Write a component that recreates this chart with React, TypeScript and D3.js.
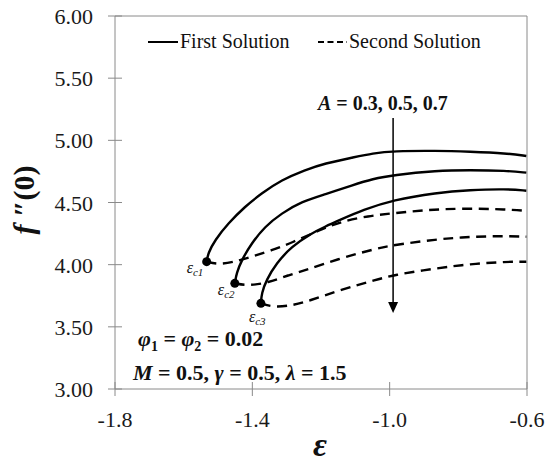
import React from "react";
import * as d3 from "d3";

// ---- data (epsilon, f''(0)) ----
const firstA03: [number, number][] = [
  [-1.533, 4.024], [-1.529, 4.091], [-1.509, 4.198], [-1.47, 4.333], [-1.422, 4.466],
  [-1.373, 4.574], [-1.315, 4.681], [-1.247, 4.761], [-1.189, 4.815], [-1.107, 4.862],
  [-1.049, 4.896], [-0.99, 4.914], [-0.864, 4.917], [-0.767, 4.909], [-0.66, 4.896], [-0.602, 4.874],
];
const firstA05: [number, number][] = [
  [-1.451, 3.85], [-1.446, 3.931], [-1.431, 4.038], [-1.402, 4.172], [-1.364, 4.305],
  [-1.315, 4.413], [-1.257, 4.506], [-1.189, 4.565], [-1.107, 4.641], [-1.049, 4.69],
  [-0.99, 4.721], [-0.864, 4.756], [-0.767, 4.761], [-0.66, 4.756], [-0.602, 4.74],
];
const firstA07: [number, number][] = [
  [-1.375, 3.689], [-1.373, 3.77], [-1.359, 3.877], [-1.33, 4.011], [-1.286, 4.145],
  [-1.228, 4.252], [-1.189, 4.305], [-1.145, 4.359], [-1.078, 4.44], [-0.99, 4.52],
  [-0.864, 4.579], [-0.767, 4.601], [-0.66, 4.609], [-0.602, 4.595],
];
const secondA03: [number, number][] = [
  [-1.533, 4.024], [-1.499, 4.0], [-1.451, 4.024], [-1.402, 4.064], [-1.344, 4.115],
  [-1.286, 4.175], [-1.204, 4.279], [-1.141, 4.346], [-1.062, 4.392], [-0.99, 4.413],
  [-0.897, 4.44], [-0.79, 4.453], [-0.655, 4.445], [-0.602, 4.432],
];
const secondA05: [number, number][] = [
  [-1.451, 3.85], [-1.412, 3.83], [-1.354, 3.855], [-1.296, 3.915], [-1.238, 3.962],
  [-1.14, 4.055], [-1.044, 4.125], [-0.99, 4.158], [-0.864, 4.204], [-0.767, 4.225],
  [-0.66, 4.231], [-0.602, 4.225],
];
const secondA07: [number, number][] = [
  [-1.375, 3.689], [-1.335, 3.655], [-1.28, 3.675], [-1.239, 3.705], [-1.14, 3.8],
  [-1.044, 3.874], [-0.99, 3.917], [-0.864, 3.971], [-0.767, 4.005], [-0.66, 4.024], [-0.602, 4.024],
];
const criticalPoints: [number, number][] = [
  [-1.533, 4.024], [-1.451, 3.85], [-1.375, 3.689],
];
const criticalLabels = ["c1", "c2", "c3"];
const xTicks = [-1.8, -1.4, -1.0, -0.6];
const yTicks = [3.0, 3.5, 4.0, 4.5, 5.0, 5.5, 6.0];

const W = 550, H = 464;
const M = { left: 115, right: 527, top: 16, bottom: 389 };
const FONT = '"Times New Roman", "Liberation Serif", "DejaVu Serif", serif';

export default function App() {
  const x = d3.scaleLinear().domain([-1.8, -0.6]).range([M.left, M.right]);
  const y = d3.scaleLinear().domain([3, 6]).range([M.bottom, M.top]);
  const line = d3
    .line<[number, number]>()
    .x((d) => x(d[0]))
    .y((d) => y(d[1]))
    .curve(d3.curveBasis);

  const axisColor = "#8a8a8a";
  const firsts = [firstA03, firstA05, firstA07];
  const seconds = [secondA03, secondA05, secondA07];
  const labelOffsets = [
    [-20, 11],
    [-17, 12],
    [-12, 19],
  ];
  const arrowX = x(-0.99);
  const ts = { fontFamily: FONT };

  return (
    <svg
      width={W}
      height={H}
      style={{ position: "absolute", left: 0, top: 0, background: "#fff", fontFamily: FONT }}
    >
      {/* frame */}
      <line x1={M.left} x2={M.right} y1={M.top} y2={M.top} stroke={axisColor} strokeWidth={1} />
      <line x1={M.right} x2={M.right} y1={M.top} y2={M.bottom} stroke={axisColor} strokeWidth={1} />
      <line x1={M.left} x2={M.right} y1={M.bottom} y2={M.bottom} stroke={axisColor} strokeWidth={1} />
      <line x1={M.left} x2={M.left} y1={M.top} y2={M.bottom} stroke={axisColor} strokeWidth={1} />

      {/* y ticks */}
      {yTicks.map((t) => (
        <g key={"y" + t}>
          <line x1={M.left - 7} x2={M.left + 7} y1={y(t)} y2={y(t)} stroke={axisColor} />
          <text x={M.left - 22} y={y(t) + 8} textAnchor="end" fontSize={22} fill="#1a1a1a" style={ts}>
            {t.toFixed(2)}
          </text>
        </g>
      ))}
      {/* x ticks */}
      {xTicks.map((t) => (
        <g key={"x" + t}>
          <line x1={x(t)} x2={x(t)} y1={M.bottom - 7} y2={M.bottom + 7} stroke={axisColor} />
          <text x={x(t)} y={M.bottom + 38} textAnchor="middle" fontSize={22} fill="#1a1a1a" style={ts}>
            {t.toFixed(1)}
          </text>
        </g>
      ))}

      {/* axis titles */}
      <text
        transform={`translate(34,200) rotate(-90)`}
        textAnchor="middle"
        fontSize={30}
        fontWeight="bold"
        fill="#111"
        style={ts}
      >
        <tspan fontStyle="italic">f</tspan>
        <tspan> ″(0)</tspan>
      </text>
      <text x={320} y={456} textAnchor="middle" fontSize={34} fontWeight="bold" fontStyle="italic" fill="#111" style={ts}>
        ε
      </text>

      {/* curves */}
      {firsts.map((d, i) => (
        <path key={"f" + i} d={line(d) || ""} fill="none" stroke="#000" strokeWidth={2.4} />
      ))}
      {seconds.map((d, i) => (
        <path
          key={"s" + i}
          d={line(d) || ""}
          fill="none"
          stroke="#000"
          strokeWidth={2.4}
          strokeDasharray="10,6.5"
        />
      ))}
      {criticalPoints.map((p, i) => (
        <g key={"c" + i}>
          <circle cx={x(p[0])} cy={y(p[1])} r={4.5} fill="#000" />
          <text
            x={x(p[0]) + labelOffsets[i][0]}
            y={y(p[1]) + labelOffsets[i][1]}
            fontSize={16}
            fontStyle="italic"
            fill="#111"
            style={ts}
          >
            ε
            <tspan fontSize={11} dy={3}>
              {criticalLabels[i]}
            </tspan>
          </text>
        </g>
      ))}

      {/* arrow */}
      <line x1={arrowX} x2={arrowX} y1={118} y2={304} stroke="#000" strokeWidth={1.5} />
      <path d={`M${arrowX - 5},${302} L${arrowX + 5},${302} L${arrowX},${313} Z`} fill="#000" />
      <text x={318} y={110} fontSize={20} fontWeight="bold" fill="#111" style={ts}>
        <tspan fontStyle="italic">A</tspan>
        <tspan> = 0.3, 0.5, 0.7</tspan>
      </text>

      {/* legend */}
      <line x1={148} x2={178} y1={42} y2={42} stroke="#000" strokeWidth={2} />
      <text x={180} y={48} fontSize={20} fill="#111" style={ts}>First Solution</text>
      <line x1={318} x2={347} y1={42} y2={42} stroke="#000" strokeWidth={2} strokeDasharray="6,3.5" />
      <text x={349} y={48} fontSize={20} fill="#111" style={ts}>Second Solution</text>

      {/* parameter annotations */}
      <text x={138} y={346} fontSize={22} fontWeight="bold" fill="#111" style={ts}>
        <tspan fontStyle="italic">φ</tspan>
        <tspan fontSize={14} dy={5}>1</tspan>
        <tspan dy={-5}> = </tspan>
        <tspan fontStyle="italic">φ</tspan>
        <tspan fontSize={14} dy={5}>2</tspan>
        <tspan dy={-5}> = 0.02</tspan>
      </text>
      <text x={133} y={380} fontSize={22} fontWeight="bold" fill="#111" style={ts}>
        <tspan fontStyle="italic">M</tspan>
        <tspan> = 0.5, </tspan>
        <tspan fontStyle="italic">γ</tspan>
        <tspan> = 0.5, </tspan>
        <tspan fontStyle="italic">λ</tspan>
        <tspan> = 1.5</tspan>
      </text>
    </svg>
  );
}
